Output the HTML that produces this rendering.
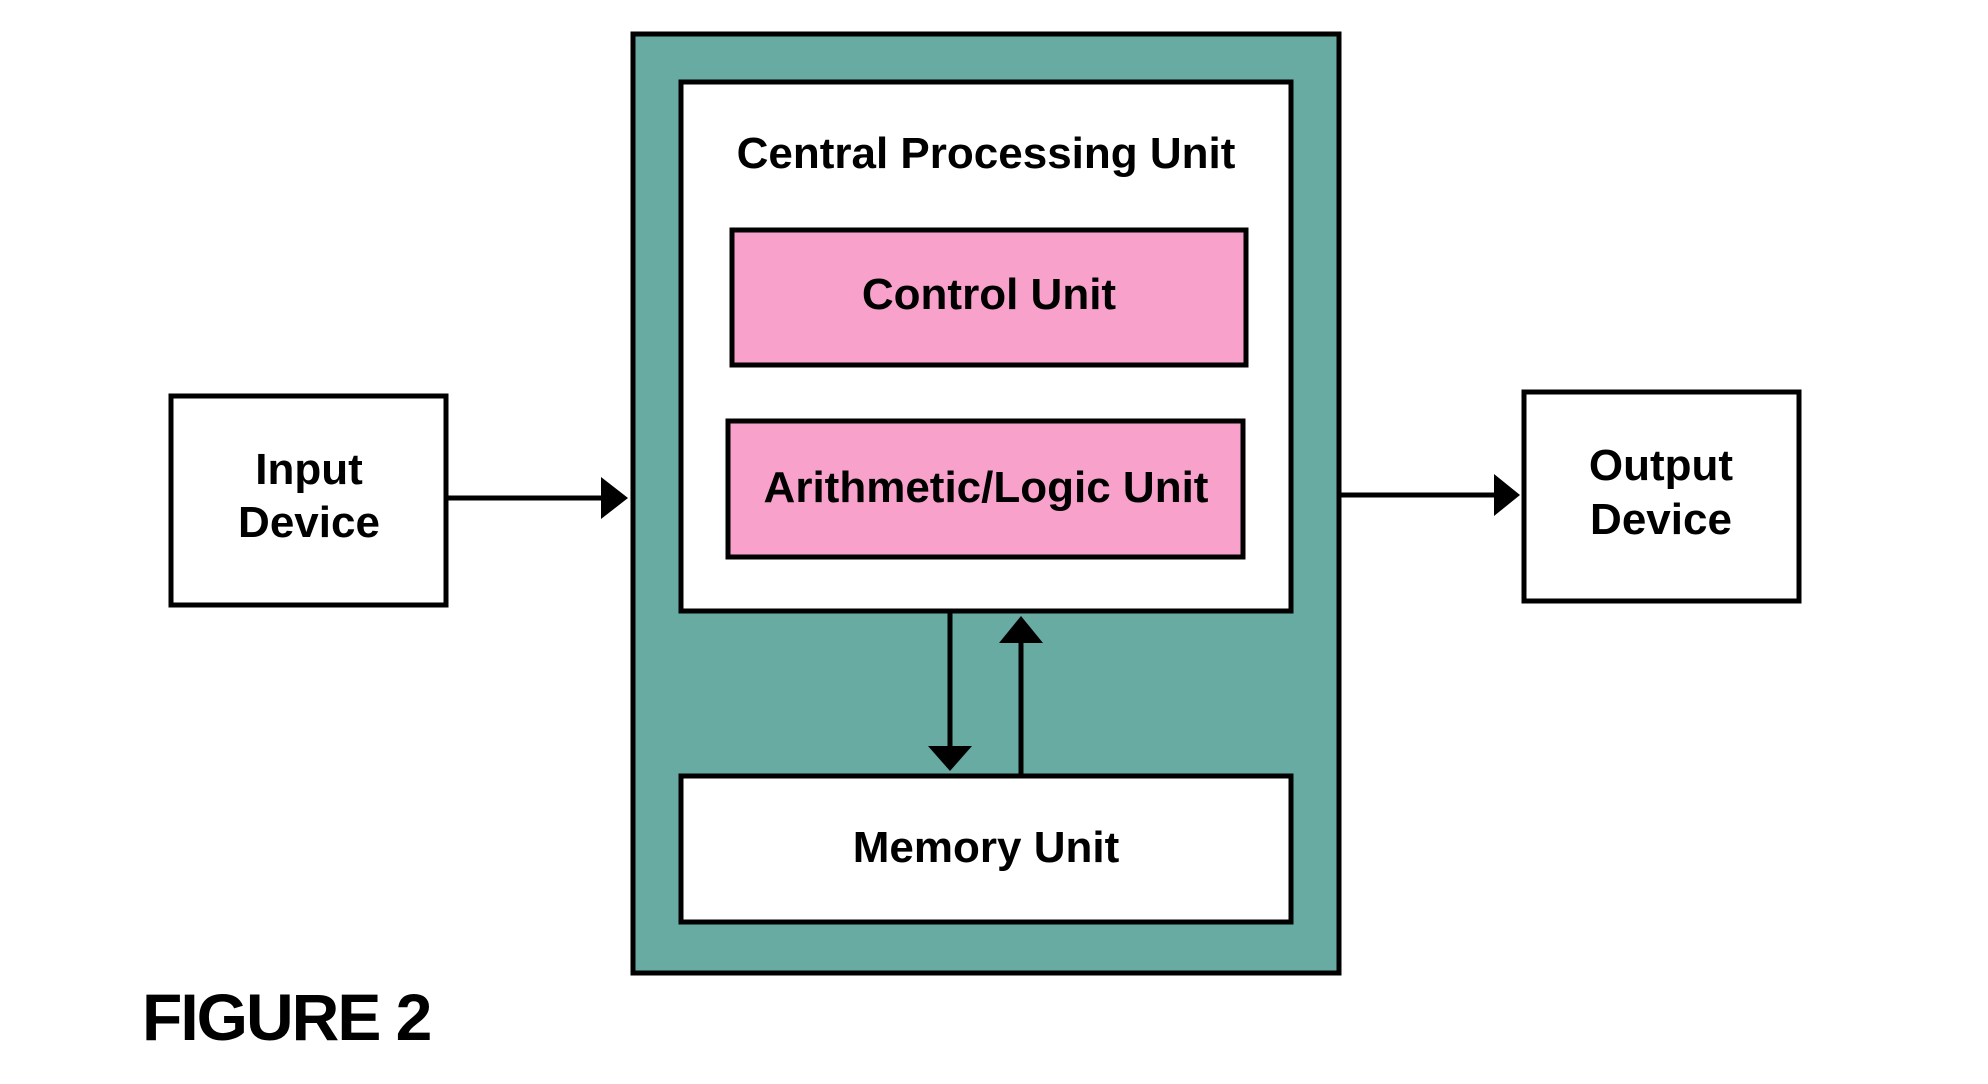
<!DOCTYPE html>
<html><head><style>html,body{margin:0;padding:0;background:#fff}svg{display:block}</style></head>
<body>
<svg width="1988" height="1084" viewBox="0 0 1988 1084" xmlns="http://www.w3.org/2000/svg" font-family="Liberation Sans, Arial, sans-serif" font-weight="bold" text-anchor="middle">
<rect x="633" y="34" width="706" height="939" fill="#67aba3" stroke="#000" stroke-width="5"/>
<rect x="681" y="82" width="610" height="529" fill="#fff" stroke="#000" stroke-width="5"/>
<text x="986" y="168" font-size="44">Central Processing Unit</text>
<rect x="732" y="230" width="514" height="135" fill="#f7a1cb" stroke="#000" stroke-width="5"/>
<text x="989" y="309" font-size="44">Control Unit</text>
<rect x="728" y="421" width="515" height="136" fill="#f7a1cb" stroke="#000" stroke-width="5"/>
<text x="986" y="502" font-size="44">Arithmetic/Logic Unit</text>
<rect x="681" y="776" width="610" height="146" fill="#fff" stroke="#000" stroke-width="5"/>
<text x="986" y="862" font-size="44">Memory Unit</text>
<rect x="171" y="396" width="275" height="209" fill="#fff" stroke="#000" stroke-width="5"/>
<text x="309" y="484" font-size="44">Input</text>
<text x="309" y="537" font-size="44">Device</text>
<rect x="1524" y="392" width="275" height="209" fill="#fff" stroke="#000" stroke-width="5"/>
<text x="1661" y="480" font-size="44">Output</text>
<text x="1661" y="534" font-size="44">Device</text>
<g stroke="#000" stroke-width="5">
<line x1="446" y1="498" x2="604" y2="498"/>
<line x1="1339" y1="495" x2="1497" y2="495"/>
<line x1="950" y1="611" x2="950" y2="749"/>
<line x1="1021" y1="776" x2="1021" y2="640"/>
</g>
<polygon points="601,477 628,498 601,519" fill="#000"/>
<polygon points="1494,474 1520,495 1494,516" fill="#000"/>
<polygon points="928,746 972,746 950,771" fill="#000"/>
<polygon points="999,643 1043,643 1021,616" fill="#000"/>
<text x="142" y="1040" font-size="66" text-anchor="start" letter-spacing="-2">FIGURE 2</text>
</svg>
</body></html>
